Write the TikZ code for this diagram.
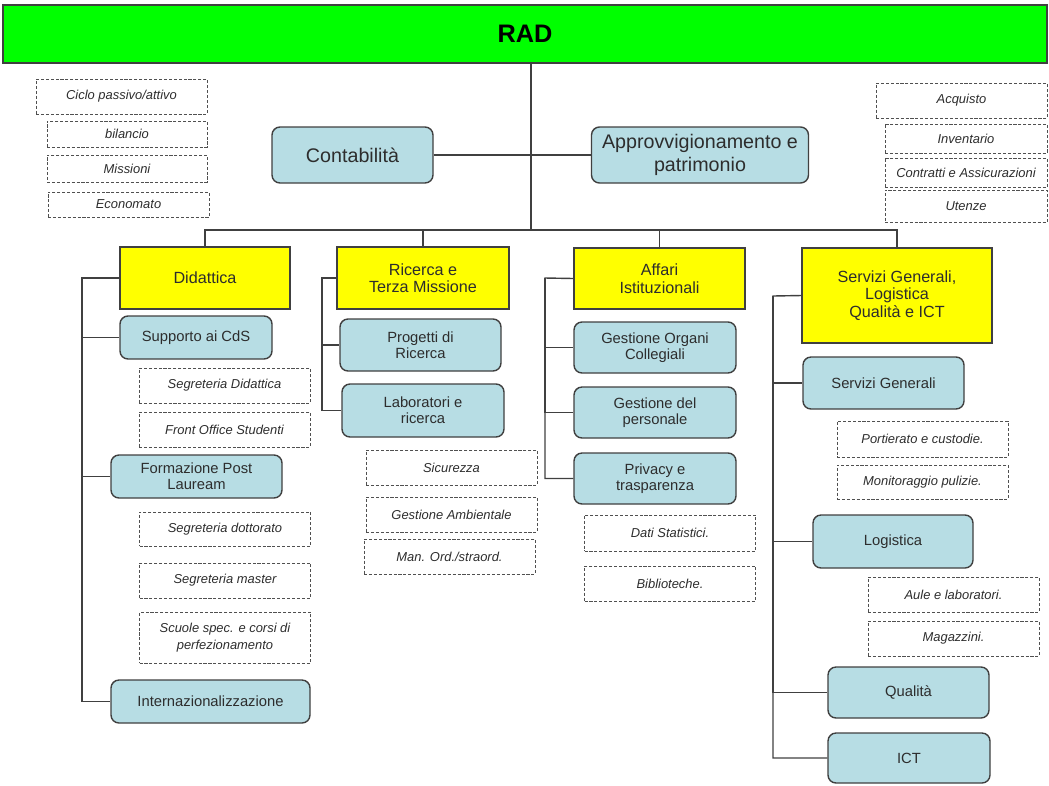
\documentclass[tikz,border=0pt]{standalone}
\usepackage{fontspec}
\setmainfont{Liberation Sans}
\definecolor{radgreen}{RGB}{0,255,0}
\definecolor{areayellow}{RGB}{255,255,0}
\definecolor{officeblue}{RGB}{183,221,228}
\definecolor{linegray}{RGB}{64,64,64}
\definecolor{textgray}{RGB}{45,45,45}
\definecolor{dashgray}{RGB}{80,80,80}
\newcommand{\px}{0.025cm}
\newcommand{\widthoffice}{161*\px}
\newcommand{\widtharea}{171*\px}
\newcommand{\widthtask}{171*\px}
\tikzset{
    common/.style={draw=linegray, line width=1pt, text=textgray, align=center, inner sep=1pt},
    rad/.style={common, fill=radgreen, text=black, minimum width=1044*\px, minimum height=58*\px,
        font=\fontsize{18}{20}\selectfont\bfseries},
    area/.style={common, fill=areayellow, minimum width=\widtharea, minimum height=62*\px,
        font=\fontsize{11.5}{12.5}\selectfont},
    office/.style={common, rounded corners=2mm, fill=officeblue, minimum width=\widthoffice,
        minimum height=52*\px, font=\fontsize{10.5}{11.5}\selectfont},
    task/.style={draw=dashgray, dash pattern=on 2.2pt off 1.3pt, line width=0.6pt, text=textgray,
        align=center, inner sep=1pt, minimum width=\widthtask, minimum height=35*\px,
        font=\fontsize{9.2}{12}\selectfont\itshape},
    link/.style={draw=linegray, line width=1pt}
}
\begin{document}
\begin{tikzpicture}[x=\px, y=-\px]
    \useasboundingbox (0,0) rectangle (1049,785);

    \node[rad] (rad) at (525,34) {RAD};

    % staff offices under RAD
    \path
        (352.5,155) node[office, minimum height=56*\px, font=\fontsize{14}{16}\selectfont] (cont) {Contabilità}
        (700,155) node[office, minimum width=217*\px, minimum height=56*\px,
            font=\fontsize{14}{16}\selectfont] (appr) {Approvvigionamento e\\patrimonio};

    \path
        (121.5,96.5) node[task] (ciclo) {Ciclo passivo/attivo}
        (127,134) node[task, minimum width=160*\px, minimum height=26*\px] (bil) {bilancio}
        (127,168.5) node[task, minimum width=160*\px, minimum height=27*\px] (miss) {Missioni}
        (128.5,204.5) node[task, minimum width=161*\px, minimum height=25*\px] (econ) {Economato};

    \path
        (961.5,100.5) node[task] (acq) {Acquisto}
        (966,138.5) node[task, minimum width=162*\px, minimum height=29*\px] (inv) {Inventario}
        (966,172.5) node[task, minimum width=162*\px, minimum height=29*\px] (contr) {Contratti e Assicurazioni}
        (966,206) node[task, minimum width=162*\px, minimum height=32*\px] (ute) {Utenze};

    % areas
    \path
        (205,278) node[area, minimum width=170*\px] (did) {Didattica}
        (423,278) node[area, minimum width=172*\px] (ric) {Ricerca e\\Terza Missione}
        (659.5,278.5) node[area, minimum height=61*\px] (aff) {Affari\\Istituzionali}
        (897,295.5) node[area, minimum width=190*\px, minimum height=95*\px] (ser) {Servizi Generali,\\Logistica\\Qualità e ICT};

    % Didattica
    \path
        (196,337.5) node[office, minimum width=152*\px, minimum height=43*\px] (supp) {Supporto ai CdS}
        (224.5,385.5) node[task] (segd) {Segreteria Didattica}
        (224.5,429.5) node[task] (front) {Front Office Studenti}
        (196.5,476.5) node[office, minimum width=171*\px, minimum height=43*\px] (form) {Formazione Post\\Lauream}
        (225,529) node[task, minimum height=34*\px] (dott) {Segreteria dottorato}
        (225,580.5) node[task] (mast) {Segreteria master}
        (225,637.5) node[task, minimum height=51*\px] (scuole) {Scuole spec. e corsi di\\perfezionamento}
        (210.5,701.5) node[office, minimum width=199*\px, minimum height=43*\px] (intl) {Internazionalizzazione};

    % Ricerca e Terza Missione
    \path
        (420.5,345) node[office] (prog) {Progetti di\\Ricerca}
        (423,410.5) node[office, minimum width=162*\px, minimum height=53*\px] (lab) {Laboratori e\\ricerca}
        (451.5,467.5) node[task] (sic) {Sicurezza}
        (451.5,514.5) node[task] (amb) {Gestione Ambientale}
        (449.5,556.5) node[task] (man) {Man. Ord./straord.};

    % Affari Istituzionali
    \path
        (655,347.5) node[office, minimum width=162*\px, minimum height=51*\px] (org) {Gestione Organi\\Collegiali}
        (655,412.5) node[office, minimum width=162*\px, minimum height=51*\px] (pers) {Gestione del\\personale}
        (655,478.5) node[office, minimum width=162*\px, minimum height=51*\px] (priv) {Privacy e\\trasparenza}
        (670,533) node[task, minimum height=36*\px] (dati) {Dati Statistici.}
        (670,583.5) node[task] (bib) {Biblioteche.};

    % Servizi Generali, Logistica, Qualita e ICT
    \path
        (883.5,383) node[office] (sg) {Servizi Generali}
        (922.5,439) node[task, minimum height=36*\px] (port) {Portierato e custodie.}
        (922.5,482) node[task, minimum height=34*\px] (mon) {Monitoraggio pulizie.}
        (893,541.5) node[office, minimum width=160*\px, minimum height=53*\px] (log) {Logistica}
        (953.5,594.5) node[task] (aule) {Aule e laboratori.}
        (953.5,638.5) node[task] (mag) {Magazzini.}
        (908.5,692.5) node[office, minimum height=51*\px] (qual) {Qualità}
        (909,758) node[office, minimum width=162*\px, minimum height=50*\px] (ict) {ICT};

    % connectors
    \coordinate (hub) at (531,230);
    \coordinate (did-spine) at (82,278);
    \coordinate (ric-spine) at (322,278);
    \coordinate (aff-spine) at (545,278);
    \coordinate (ser-spine) at (773,296);

    \draw[link] (hub |- rad.south) -- (hub);
    \draw[link] (cont.east) -- (appr.west);
    \draw[link] (did.north) |- (hub) -| (ser.north);
    \draw[link] (ric.north) |- (hub);
    \draw[link] (aff.north) |- (hub);

    \draw[link] (did.west) -- (did-spine) |- (intl.west);
    \foreach \n in {supp,form}
        \draw[link] (did-spine) |- (\n.west);
    \draw[link] (ric.west) -- (ric-spine) |- (lab.west);
    \draw[link] (ric-spine) |- (prog.west);
    \draw[link] (aff.west) -- (aff-spine) |- (priv.west);
    \foreach \n in {org,pers}
        \draw[link] (aff-spine) |- (\n.west);
    \draw[link] (ser.west) -- (ser-spine) |- (ict.west);
    \foreach \n in {sg,log,qual}
        \draw[link] (ser-spine) |- (\n.west);
\end{tikzpicture}
\end{document}
